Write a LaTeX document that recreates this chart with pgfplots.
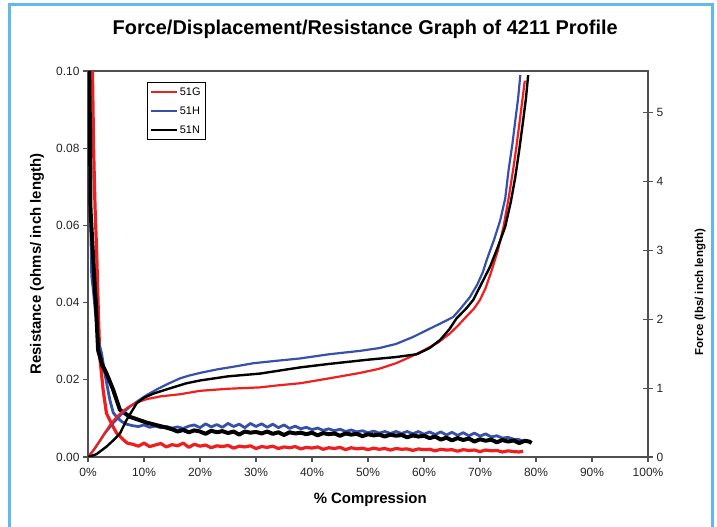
\documentclass[border=0pt]{standalone}
\usepackage{fontspec}
\setmainfont{Liberation Sans}
\usepackage{pgfplots}
\pgfplotsset{compat=1.18}
\definecolor{frameblue}{RGB}{96,186,232}
\definecolor{cred}{RGB}{240,30,30}
\definecolor{cblue}{RGB}{55,80,170}
\definecolor{axgray}{RGB}{80,80,80}

\begin{document}
\begin{tikzpicture}
\path[use as bounding box] (0,0) rectangle (717bp,527bp);
\fill[white] (0,0) rectangle (717bp,527bp);
\draw[frameblue, line width=3bp] (9bp,-5bp) -- (9bp,522bp) -- (712.5bp,522bp) -- (712.5bp,-5bp);

% left axis: resistance
\begin{axis}[
  at={(88bp,70bp)}, anchor=south west,
  width=560bp, height=386bp, scale only axis,
  xmin=0, xmax=100, ymin=0, ymax=0.1,
  xtick={0,10,...,100}, ytick={0,0.02,...,0.1},
  xtick pos=left, ytick pos=left,
  tick align=outside, major tick length=5bp,
  axis line style={axgray, line width=1.1pt},
  every tick/.style={axgray, line width=1.1pt},
  xticklabel={\pgfmathprintnumber[assume math mode=true]{\tick}\%},
  yticklabel style={/pgf/number format/.cd, fixed, fixed zerofill, precision=2, assume math mode=true},
  ticklabel style={font=\fontsize{12}{14}\selectfont, text=black!85},
  xticklabel style={yshift=-3bp},
  title={Force/Displacement/Resistance Graph of 4211 Profile},
  every axis title shift=0pt,
  title style={at={(axis description cs:0.495,1.108)}, anchor=center, font=\fontsize{20}{24}\selectfont\bfseries},
  xlabel={\% Compression},
  xlabel style={at={(axis description cs:0.504,-0.111)}, anchor=center, font=\fontsize{15}{18}\selectfont\bfseries},
  ylabel={Resistance (ohms/ inch length)},
  ylabel style={at={(axis description cs:-0.091,0.5)}, anchor=center, font=\fontsize{15}{18}\selectfont\bfseries},
  legend style={at={(0.105,0.971)}, anchor=north west, draw=black, line width=0.7pt,
    font=\fontsize{11}{13}\selectfont, row sep=6bp, inner sep=3bp},
  legend cell align=left,
  legend image code/.code={\draw[#1, line width=2.2pt] (0cm,0cm) -- (0.9cm,0cm);},
  clip=true,
]
% 51G resistance
\addplot[cred, line width=3.2pt, line join=round] coordinates {
(0.8,0.100) (1.0,0.080) (1.25,0.065) (1.55,0.053) (1.8,0.040) (2.1,0.026) (2.7,0.0174)
(3.3,0.0113) (4.5,0.0078) (5.1,0.0062) (6.3,0.0045) (7,0.0036)
(8,0.0033) (9,0.0028) (10,0.0036) (11,0.0027) (12,0.0031) (13,0.0035) (14,0.0026)
(15,0.0032) (16,0.0029) (17,0.0036) (18,0.0025) (19,0.0033) (20,0.0028) (21,0.0031)
(22,0.0024) (23,0.0029) (24,0.0027) (25,0.0030) (26,0.0023) (27,0.0028) (28,0.0026)
(29,0.0029) (30,0.0022) (31,0.0027) (32,0.0025) (33,0.0028) (34,0.0022) (35,0.0026)
(36,0.0024) (37,0.0027) (38,0.0021) (39,0.0025) (40,0.0023) (41,0.0026) (42,0.0020)
(43,0.0024) (44,0.0022) (45,0.0025) (46,0.0019) (47,0.0024) (48,0.0021) (49,0.0023)
(50,0.0019) (51,0.0023) (52,0.0020) (53,0.0022) (54,0.0018) (55,0.0022) (56,0.0020)
(57,0.0021) (58,0.0017) (59,0.0021) (60,0.0019) (61,0.0020) (62,0.0016) (63,0.0020)
(64,0.0018) (65,0.0019) (66,0.0015) (67,0.0019) (68,0.0017) (69,0.0018) (70,0.0014)
(71,0.0018) (72,0.0016) (73,0.0017) (74,0.0013) (75,0.0016) (76,0.0014) (77,0.0013)
(77.7,0.0015)
};
\addlegendentry{51G}
% 51H resistance
\addplot[cblue, line width=2.8pt, line join=round] coordinates {
(0.05,0.0865) (0.3,0.075) (0.66,0.047) (0.95,0.0433) (1.8,0.0303) (2.4,0.027) (3.0,0.0217)
(3.9,0.0148) (4.5,0.0115) (5.1,0.0104) (6,0.0092) (6.9,0.0085) (8,0.0081)
(9,0.0079) (10,0.0083) (11,0.0077) (12,0.0080) (13,0.0076) (14,0.0079) (15,0.0075)
(16,0.0078) (17,0.0074) (18,0.0080) (19,0.0083) (20,0.0076) (21,0.0086) (22,0.0078)
(23,0.0084) (24,0.0077) (25,0.0087) (26,0.0079) (27,0.0085) (28,0.0076) (29,0.0087)
(30,0.0079) (31,0.0086) (32,0.0077) (33,0.0085) (34,0.0076) (35,0.0083) (36,0.0074)
(37,0.0080) (38,0.0073) (39,0.0077) (40,0.0071) (41,0.0075) (42,0.0069) (43,0.0073)
(44,0.0068) (45,0.0072) (46,0.0066) (47,0.0070) (48,0.0065) (49,0.0068) (50,0.0063)
(51,0.0067) (52,0.0062) (53,0.0066) (54,0.0061) (55,0.0066) (56,0.0061) (57,0.0066)
(58,0.0060) (59,0.0066) (60,0.0059) (61,0.0065) (62,0.0058) (63,0.0065) (64,0.0057)
(65,0.0064) (66,0.0056) (67,0.0063) (68,0.0055) (69,0.0062) (70,0.0054) (71,0.0060)
(72,0.0052) (73,0.0055) (74,0.0049) (75,0.0051) (76,0.0046) (77,0.0045) (77.5,0.0042)
};
\addlegendentry{51H}
% 51N resistance
\addplot[black, line width=4pt, line join=round] coordinates {
(0.2,0.100) (0.36,0.085) (0.45,0.064) (0.95,0.051) (1.25,0.043) (1.4,0.040) (1.8,0.0277)
(2.5,0.024) (3.3,0.0217) (4.5,0.0174) (5.7,0.0122) (7.5,0.0104) (10.5,0.0089) (14,0.0076)
(15,0.0072) (16,0.0066) (17,0.0070) (18,0.0064) (19,0.0069) (20,0.0066) (21,0.0060)
(22,0.0068) (23,0.0064) (24,0.0067) (25,0.0062) (26,0.0066) (27,0.0058) (28,0.0066)
(29,0.0063) (30,0.0065) (31,0.0061) (32,0.0066) (33,0.0060) (34,0.0064) (35,0.0057)
(36,0.0064) (37,0.0061) (38,0.0063) (39,0.0059) (40,0.0063) (41,0.0056) (42,0.0062)
(43,0.0059) (44,0.0061) (45,0.0055) (46,0.0061) (47,0.0058) (48,0.0060) (49,0.0054)
(50,0.0059) (51,0.0056) (52,0.0058) (53,0.0053) (54,0.0058) (55,0.0055) (56,0.0057)
(57,0.0051) (58,0.0056) (59,0.0053) (60,0.0055) (61,0.0049) (62,0.0053) (63,0.0045)
(64,0.0050) (65,0.0043) (66,0.0049) (67,0.0044) (68,0.0048) (69,0.0040) (70,0.0046)
(71,0.0042) (72,0.0045) (73,0.0038) (74,0.0044) (75,0.0040) (76,0.0043) (77,0.0036)
(78,0.0042) (78.8,0.0040) (79.2,0.0036)
};
\addlegendentry{51N}
\end{axis}

% right axis: force
\begin{axis}[
  at={(88bp,70bp)}, anchor=south west,
  width=560bp, height=386bp, scale only axis,
  xmin=0, xmax=100, ymin=0, ymax=5.6,
  hide x axis, axis y line*=right,
  ytick={0,1,...,5},
  ytick align=center, major tick length=10bp,
  axis line style={axgray, line width=1.1pt},
  every tick/.style={axgray, line width=1.1pt},
  yticklabel style={/pgf/number format/assume math mode=true, font=\fontsize{12}{14}\selectfont, text=black!85},
  ylabel={Force (lbs/ inch length)},
  ylabel style={at={(axis description cs:1.093,0.427)}, anchor=center, rotate=0, font=\fontsize{11.5}{14}\selectfont\bfseries},
]
% 51H force
\addplot[cblue, line width=2.2pt] coordinates {
(0,0) (1,0.10) (2,0.22) (3,0.34) (4.5,0.49) (6,0.62) (7.5,0.73) (9,0.82) (10.5,0.90)
(12.5,0.99) (14.5,1.07) (16.4,1.14) (18,1.18) (20,1.22) (23,1.27) (26,1.31) (29.5,1.36)
(33,1.39) (37.9,1.43) (43,1.49) (48.6,1.54) (52,1.58) (55,1.64) (58,1.74) (60.5,1.84)
(63,1.94) (65.2,2.03) (66.5,2.15) (68.2,2.32) (69.5,2.50) (70.5,2.68) (71.2,2.86)
(72.5,3.15) (73.6,3.43) (74.5,3.75) (75.1,4.16) (75.8,4.55) (76.3,4.88) (76.8,5.20) (77.2,5.54)
};
% 51G force
\addplot[cred, line width=2.2pt] coordinates {
(0,0) (1,0.10) (2,0.22) (3,0.35) (4,0.47) (5.1,0.58) (6.3,0.67) (7.5,0.74) (9,0.80)
(10.5,0.84) (13,0.88) (16.4,0.91) (20,0.96) (25,0.99) (30.7,1.01) (34,1.04) (37.9,1.07)
(43,1.14) (48.6,1.22) (52,1.28) (55,1.36) (57.5,1.45) (60,1.55) (62.5,1.66) (64.6,1.79)
(66,1.90) (67.6,2.04) (69,2.16) (70,2.28) (71,2.45) (72.1,2.71) (73.2,3.00) (74.2,3.34)
(75.1,3.75) (75.9,4.16) (76.5,4.50) (77.1,4.88) (77.6,5.20) (78.0,5.46)
};
% 51N force
\addplot[black, line width=2.4pt] coordinates {
(0,0) (1.5,0.04) (3.3,0.15) (4.5,0.24) (5.7,0.34) (6.9,0.54) (7.8,0.66) (8.7,0.78)
(10,0.86) (11.7,0.92) (14,0.98) (16.4,1.04) (17.6,1.07) (20,1.11) (25,1.17) (30.7,1.21)
(37.9,1.30) (43,1.35) (49.8,1.41) (55,1.45) (58.7,1.49) (61,1.58) (62.9,1.70) (64.5,1.85)
(65.8,2.01) (67.6,2.16) (68.8,2.28) (70.3,2.52) (71.8,2.76) (73.2,3.05) (74.5,3.34)
(75.5,3.70) (76.3,4.06) (77,4.45) (77.7,4.88) (78.2,5.20) (78.6,5.54)
};
\end{axis}
\end{tikzpicture}
\end{document}
